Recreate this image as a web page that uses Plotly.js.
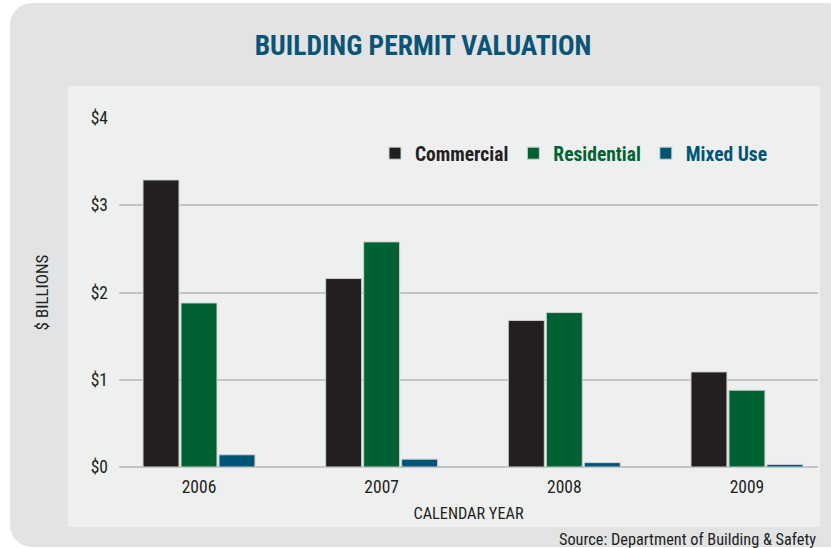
<!DOCTYPE html>
<html>
<head>
<meta charset="utf-8">
<script src="https://cdn.plot.ly/plotly-3.0.1.min.js"></script>
<style>
  html, body { margin: 0; padding: 0; background: #ffffff; }
  #wrap { position: relative; width: 831px; height: 548px; overflow: hidden; }
  #bgbox { position: absolute; left: 10px; top: 3px; width: 840px; height: 544px;
           background: #e2e3e5; border-radius: 22px; }
  #chart { position: absolute; left: 0; top: 0; width: 831px; height: 548px; }
  svg text { font-stretch: condensed !important; }
</style>
</head>
<body>
<div id="wrap">
  <div id="bgbox"></div>
  <div id="chart"></div>
</div>
<script>
const years = ['2006', '2007', '2008', '2009'];
const commercial = [3.29, 2.16, 1.68, 1.09];
const residential = [1.88, 2.58, 1.77, 0.88];
const mixedUse = [0.14, 0.09, 0.05, 0.03];
const yTicks = [0, 1, 2, 3, 4];
const yTickText = ['&#36;0', '&#36;1', '&#36;2', '&#36;3', '&#36;4'];

const FONT = 'Roboto, "Liberation Sans", sans-serif';
const C_COM = '#231f20', C_RES = '#006233', C_MIX = '#005577';

function bar(name, vals, color) {
  return {
    type: 'bar', x: years, y: vals,
    name: '<span style="color:' + color + '"><b>' + name + '</b></span>',
    marker: { color: color, line: { color: '#cfd1d1', width: 1 } },
    hoverinfo: 'x+y'
  };
}

const data = [
  bar('Commercial', commercial, C_COM),
  bar('Residential', residential, C_RES),
  bar('Mixed Use', mixedUse, C_MIX)
];

const layout = {
  width: 831, height: 548,
  margin: { l: 119, r: 13, t: 118, b: 81, pad: 0 },
  paper_bgcolor: 'rgba(0,0,0,0)',
  plot_bgcolor: 'rgba(0,0,0,0)',
  font: { family: FONT, color: C_COM, size: 16 },
  title: {
    text: '<b>BUILDING PERMIT VALUATION</b>',
    font: { family: FONT, size: 27.5, color: '#0b5475' },
    x: 0.435, xanchor: 'center', xref: 'paper',
    y: 1 - 45 / 548, yanchor: 'middle', yref: 'container'
  },
  barmode: 'group',
  bargap: 0.376,
  bargroupgap: 0.053,
  xaxis: {
    type: 'category',
    range: [-0.438, 3.389],
    showgrid: false, zeroline: false, showline: false,
    ticks: '', ticklabelstandoff: 7,
    tickfont: { family: FONT, size: 17.5, color: C_COM },
    title: { text: 'CALENDAR YEAR', standoff: 12,
             font: { family: FONT, size: 16.3, color: C_COM } }
  },
  yaxis: {
    range: [0, 4],
    tickvals: yTicks,
    ticktext: yTickText,
    showgrid: true, gridcolor: '#c3c5c7', gridwidth: 1.5,
    zeroline: true, zerolinecolor: '#c3c5c7', zerolinewidth: 1.5,
    showline: false, ticks: '', ticklabelstandoff: 10,
    tickfont: { family: FONT, size: 17.5, color: C_COM },
    title: { text: '&#36; BILLIONS', standoff: 37,
             font: { family: FONT, size: 17, color: C_COM } },
    fixedrange: true
  },
  legend: {
    orientation: 'h',
    x: (375 - 119) / 699, xanchor: 'left',
    y: (467 - 134) / 349, yanchor: 'top',
    bgcolor: 'rgba(0,0,0,0)',
    font: { family: FONT, size: 19.5 },
    itemclick: false, itemdoubleclick: false
  },
  shapes: [{
    type: 'rect', xref: 'paper', yref: 'paper', layer: 'below',
    x0: (68 - 119) / 699, x1: (820 - 119) / 699,
    y0: (467 - 527) / 349, y1: (467 - 86) / 349,
    fillcolor: '#eef0f0', line: { width: 0 }
  }],
  annotations: [{
    text: 'Source: Department of Building &amp; Safety',
    xref: 'paper', yref: 'paper',
    x: 1, xanchor: 'right',
    y: (467 - 539) / 349, yanchor: 'middle',
    showarrow: false,
    font: { family: FONT, size: 16.3, color: C_COM }
  }],
  showlegend: true
};

Plotly.newPlot('chart', data, layout, { displayModeBar: false });
</script>
</body>
</html>
